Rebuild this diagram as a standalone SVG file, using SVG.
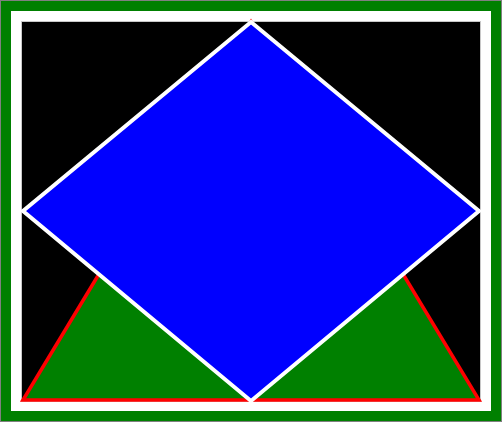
<svg xmlns="http://www.w3.org/2000/svg" width="502" height="422" viewBox="0 0 502 422">
<style>
.frame{fill:#008000;stroke:#808080;stroke-width:1}
.inner{fill:none;stroke:#ffffff;stroke-width:10}
.bg{fill:#000000;stroke:#c8c8c8;stroke-width:1}
.tri{fill:#008000;stroke:#ff0000;stroke-width:3.5}
.dia{fill:#0000ff;stroke:#ffffff;stroke-width:4}
</style>
<rect class="frame" x="0.5" y="0.5" width="501" height="421"/>
<rect class="inner" x="16" y="16" width="470" height="390"/>
<rect class="bg" x="21.5" y="21.5" width="459" height="380"/>
<g id="triangle"><polygon class="tri" points="23,400 251,22 479,400"/></g>
<g id="diamond"><polygon class="dia" points="251,22 479,211 251,401 23,211"/></g>
<g id="connectors"></g>
</svg>
